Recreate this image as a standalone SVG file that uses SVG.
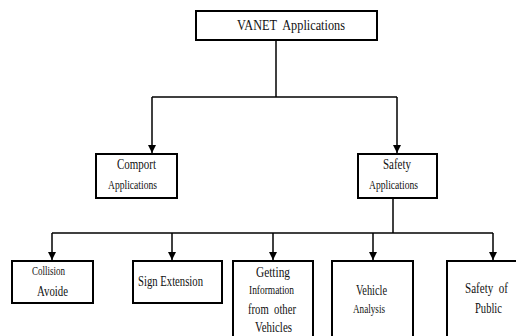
<svg xmlns="http://www.w3.org/2000/svg" width="516" height="336" viewBox="0 0 516 336">
<defs>
<style>
.box{fill:#fff;stroke:#000;stroke-width:2}
.ln{fill:none;stroke:#000;stroke-width:1.5}
.t{font-family:"Liberation Serif","Times New Roman",serif;fill:#111;font-size:15px}
.s{font-size:12px}
</style>
<marker id="ah" viewBox="0 0 10 10" refX="10" refY="5" markerWidth="8" markerHeight="8" markerUnits="userSpaceOnUse" orient="auto">
<path d="M0,0 L10,5 L0,10 z" fill="#000"/>
</marker>
</defs>
<rect width="516" height="336" fill="#fff"/>
<g id="connectors">
<path class="ln" d="M276,40 V97"/>
<path class="ln" d="M152,97 H397"/>
<path class="ln" d="M152,97 V153" marker-end="url(#ah)"/>
<path class="ln" d="M397,97 V153" marker-end="url(#ah)"/>
<path class="ln" d="M393,198 V233"/>
<path class="ln" d="M52,233 H493"/>
<path class="ln" d="M52,233 V260" marker-end="url(#ah)"/>
<path class="ln" d="M172,233 V260" marker-end="url(#ah)"/>
<path class="ln" d="M273,233 V260" marker-end="url(#ah)"/>
<path class="ln" d="M373,233 V260" marker-end="url(#ah)"/>
<path class="ln" d="M493,233 V260" marker-end="url(#ah)"/>
</g>
<g id="vanet">
<rect class="box" x="196" y="11" width="181" height="29"/>
<text class="t" x="237" y="30" textLength="108" lengthAdjust="spacingAndGlyphs" xml:space="preserve">VANET  Applications</text>
</g>
<g id="comport">
<rect class="box" x="96" y="154" width="81" height="44"/>
<text class="t" x="117" y="169" textLength="39" lengthAdjust="spacingAndGlyphs">Comport</text>
<text class="t s" x="108" y="189" textLength="49" lengthAdjust="spacingAndGlyphs">Applications</text>
</g>
<g id="safety">
<rect class="box" x="358" y="154" width="79" height="44"/>
<text class="t" x="383" y="169" textLength="28" lengthAdjust="spacingAndGlyphs">Safety</text>
<text class="t s" x="369" y="189" textLength="49" lengthAdjust="spacingAndGlyphs">Applications</text>
</g>
<g id="collision">
<rect class="box" x="12" y="261" width="81" height="42"/>
<text class="t s" x="32" y="275" textLength="33" lengthAdjust="spacingAndGlyphs">Collision</text>
<text class="t" x="37" y="296" textLength="31" lengthAdjust="spacingAndGlyphs">Avoide</text>
</g>
<g id="sign">
<rect class="box" x="133" y="261" width="89" height="42"/>
<text class="t" x="138" y="286" textLength="65" lengthAdjust="spacingAndGlyphs">Sign Extension</text>
</g>
<g id="getting">
<rect class="box" x="233" y="261" width="80" height="80"/>
<text class="t" x="256" y="277" textLength="34" lengthAdjust="spacingAndGlyphs">Getting</text>
<text class="t s" x="249" y="294" textLength="45" lengthAdjust="spacingAndGlyphs">Information</text>
<text class="t" x="248" y="314" textLength="48" lengthAdjust="spacingAndGlyphs" xml:space="preserve">from  other</text>
<text class="t" x="255" y="332" textLength="37" lengthAdjust="spacingAndGlyphs">Vehicles</text>
</g>
<g id="vehicle">
<rect class="box" x="332" y="261" width="81" height="80"/>
<text class="t" x="356" y="295" textLength="31" lengthAdjust="spacingAndGlyphs">Vehicle</text>
<text class="t s" x="353" y="313" textLength="32" lengthAdjust="spacingAndGlyphs">Analysis</text>
</g>
<g id="public">
<rect class="box" x="447" y="261" width="80" height="80"/>
<text class="t" x="465" y="293" textLength="43" lengthAdjust="spacingAndGlyphs" xml:space="preserve">Safety  of</text>
<text class="t" x="475" y="313" textLength="27" lengthAdjust="spacingAndGlyphs">Public</text>
</g>
</svg>
